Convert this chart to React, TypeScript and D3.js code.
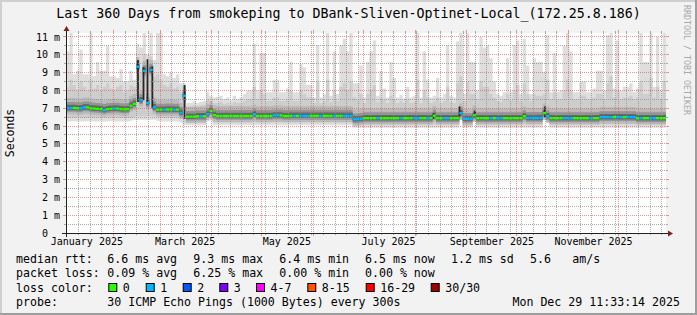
import React from "react";
import * as d3 from "d3";

// ---------------- data ----------------
const endTime = new Date(2025, 11, 29, 11, 33, 14);
const rangeDays = 360;
const stepDays = 2; // one value per 2-day bucket, 180 buckets
const yMax = 11.22; // ms at top of plot

// median RTT (ms) per bucket
const medianRtt = [
  7.02, 7.02, 7.02, 7.0, 7.0, 7.05, 7.05, 7.0, 6.98, 6.97,
  6.95, 6.9, 6.95, 6.97, 6.98, 6.98, 6.95, 6.93, 6.95, 7.15,
  7.25, 9.33, 7.45, 9.1, 7.3, 9.15, 7.05, 6.92, 6.92, 6.92,
  6.93, 6.93, 6.92, 6.92, 6.75, 7.7, 6.53, 6.53, 6.53, 6.55,
  6.55, 6.55, 6.68, 6.85, 6.62, 6.57, 6.57, 6.57, 6.57, 6.57,
  6.57, 6.57, 6.57, 6.57, 6.57, 6.57, 6.66, 6.57, 6.57, 6.57,
  6.57, 6.57, 6.6, 6.6, 6.6, 6.57, 6.57, 6.58, 6.58, 6.58,
  6.58, 6.58, 6.58, 6.58, 6.58, 6.58, 6.58, 6.58, 6.58, 6.58,
  6.58, 6.58, 6.58, 6.58, 6.58, 6.58, 6.38, 6.38, 6.4, 6.44,
  6.44, 6.44, 6.44, 6.44, 6.44, 6.44, 6.44, 6.44, 6.44, 6.44,
  6.44, 6.44, 6.44, 6.44, 6.44, 6.44, 6.44, 6.44, 6.44, 6.44,
  6.58, 6.44, 6.44, 6.44, 6.44, 6.44, 6.44, 6.44, 6.72, 6.4,
  6.4, 6.4, 6.6, 6.44, 6.44, 6.44, 6.44, 6.44, 6.44, 6.44,
  6.44, 6.44, 6.44, 6.44, 6.44, 6.44, 6.44, 6.55, 6.46, 6.46,
  6.46, 6.46, 6.46, 6.72, 6.55, 6.44, 6.44, 6.44, 6.44, 6.44,
  6.44, 6.44, 6.44, 6.44, 6.44, 6.44, 6.44, 6.44, 6.44, 6.44,
  6.5, 6.5, 6.5, 6.5, 6.5, 6.5, 6.5, 6.5, 6.5, 6.5,
  6.5, 6.44, 6.44, 6.44, 6.44, 6.44, 6.44, 6.44, 6.44, 6.44,
];

// lost pings per bucket (selects the loss colour of the median)
const lossCount = [
  1, 1, 0, 0, 1, 1, 0, 0, 0, 0,
  0, 1, 0, 0, 1, 0, 0, 0, 0, 0,
  0, 1, 1, 1, 1, 1, 1, 0, 0, 1,
  0, 0, 1, 0, 1, 1, 0, 0, 0, 0,
  1, 0, 1, 0, 0, 0, 0, 0, 0, 0,
  0, 0, 0, 0, 0, 0, 1, 0, 0, 0,
  0, 0, 1, 1, 0, 0, 0, 0, 1, 0,
  1, 1, 1, 0, 0, 0, 1, 0, 0, 0,
  1, 0, 0, 1, 1, 1, 1, 1, 1, 0,
  0, 0, 0, 1, 0, 0, 0, 0, 0, 0,
  1, 0, 0, 0, 1, 1, 0, 0, 1, 0,
  0, 0, 0, 1, 1, 0, 0, 0, 1, 1,
  1, 1, 0, 0, 0, 0, 0, 1, 0, 1,
  1, 0, 0, 0, 0, 0, 0, 0, 1, 1,
  1, 1, 1, 0, 1, 0, 0, 0, 0, 1,
  1, 1, 0, 0, 0, 0, 0, 1, 0, 0,
  1, 1, 1, 1, 0, 1, 1, 0, 1, 1,
  1, 0, 1, 0, 0, 1, 1, 0, 0, 0,
];

// slowest ping (top of the outer smoke) per bucket
const maxRtt = [
  10.2, 11.22, 8.9, 9.1, 10.3, 8.9, 8.9, 11.22, 8.8, 9.6,
  9.1, 9.1, 10.5, 8.8, 8.8, 8.7, 9.2, 8.5, 8.5, 9.1,
  8.6, 10.6, 10.4, 11.22, 10.0, 11.22, 9.7, 11.22, 11.22, 8.9,
  8.8, 9.0, 8.7, 8.9, 8.4, 8.4, 7.3, 7.3, 7.4, 7.3,
  7.35, 7.4, 7.9, 7.7, 7.6, 7.65, 7.7, 7.5, 7.6, 7.45,
  7.7, 7.5, 7.6, 7.8, 8.0, 8.0, 10.6, 8.0, 10.1, 10.1,
  7.9, 7.9, 8.6, 8.6, 7.9, 7.9, 8.1, 9.6, 7.9, 7.9,
  9.5, 9.3, 8.3, 8.3, 7.6, 10.55, 7.6, 7.8, 11.22, 7.7,
  10.2, 7.8, 10.55, 10.9, 10.2, 11.22, 8.4, 8.4, 9.4, 7.6,
  9.6, 10.2, 10.8, 7.7, 9.1, 8.1, 7.6, 9.6, 8.7, 7.6,
  7.75, 7.55, 8.2, 7.6, 7.7, 11.22, 7.6, 10.2, 8.6, 7.6,
  7.7, 8.7, 7.6, 7.8, 10.55, 7.7, 7.6, 10.75, 11.22, 7.8,
  11.2, 9.6, 9.6, 8.0, 11.0, 10.4, 10.55, 9.8, 8.5, 7.8,
  7.7, 7.9, 9.8, 7.9, 10.55, 10.8, 7.8, 10.9, 9.4, 7.8,
  9.8, 9.6, 9.6, 9.05, 11.1, 7.9, 10.1, 7.9, 8.0, 10.5,
  11.22, 10.2, 7.9, 7.9, 8.5, 8.5, 7.9, 7.9, 8.1, 9.1,
  9.1, 8.0, 11.1, 11.22, 8.1, 10.8, 8.0, 8.2, 8.2, 8.4,
  7.9, 8.1, 11.22, 9.6, 9.6, 11.22, 8.2, 11.0, 8.0, 11.22,
];

// top of the second smoke layer per bucket
const upperRtt = [
  8.2, 8.6, 8.3, 8.0, 8.5, 8.2, 8.0, 8.6, 8.1, 8.3,
  8.0, 8.2, 8.4, 8.1, 8.0, 8.2, 8.3, 7.9, 8.0, 8.3,
  8.2, 9.8, 9.0, 10.0, 9.4, 9.9, 8.8, 8.9, 8.6, 8.3,
  8.2, 8.4, 8.1, 8.2, 7.9, 8.0, 7.1, 7.1, 7.15, 7.1,
  7.15, 7.2, 7.5, 7.4, 7.3, 7.3, 7.35, 7.25, 7.3, 7.2,
  7.35, 7.3, 7.3, 7.4, 7.5, 7.5, 8.2, 7.5, 8.0, 7.8,
  7.4, 7.4, 7.6, 7.6, 7.4, 7.4, 7.5, 8.0, 7.4, 7.4,
  8.0, 7.8, 7.6, 7.6, 7.3, 8.5, 7.3, 7.4, 8.6, 7.35,
  8.0, 7.4, 8.2, 8.4, 8.0, 8.5, 7.6, 7.5, 7.8, 7.3,
  7.8, 8.0, 8.3, 7.35, 7.6, 7.5, 7.3, 7.7, 7.5, 7.3,
  7.4, 7.3, 7.5, 7.3, 7.35, 8.6, 7.3, 8.0, 7.6, 7.3,
  7.4, 7.6, 7.3, 7.4, 8.2, 7.35, 7.3, 8.4, 8.8, 7.4,
  8.5, 7.8, 7.8, 7.5, 8.5, 8.2, 8.2, 7.8, 7.6, 7.4,
  7.35, 7.5, 7.8, 7.45, 8.0, 8.3, 7.4, 8.4, 7.8, 7.4,
  7.8, 7.7, 7.7, 7.8, 8.6, 7.5, 7.9, 7.5, 7.5, 8.0,
  8.6, 8.0, 7.5, 7.5, 7.7, 7.7, 7.5, 7.5, 7.6, 7.8,
  7.8, 7.5, 8.4, 8.8, 7.6, 8.0, 7.5, 7.6, 7.6, 7.7,
  7.5, 7.6, 8.5, 7.8, 7.8, 8.7, 7.6, 8.2, 7.5, 8.5,
];

// bottom of the second smoke layer per bucket
const lowerRtt = [
  6.45, 6.45, 6.45, 6.45, 6.45, 6.45, 6.45, 6.45, 6.45, 6.45,
  6.45, 6.45, 6.45, 6.45, 6.45, 6.45, 6.45, 6.45, 6.45, 6.45,
  6.5, 6.55, 6.55, 6.55, 6.55, 6.55, 6.55, 6.5, 6.45, 6.45,
  6.45, 6.45, 6.45, 6.45, 6.4, 6.2, 6.2, 6.2, 6.2, 6.2,
  6.2, 6.2, 6.4, 6.4, 6.2, 6.2, 6.2, 6.2, 6.2, 6.2,
  6.2, 6.2, 6.2, 6.2, 6.2, 6.2, 6.2, 6.2, 6.2, 6.2,
  6.2, 6.2, 6.2, 6.2, 6.2, 6.2, 6.2, 6.2, 6.2, 6.2,
  6.2, 6.2, 6.2, 6.2, 6.2, 6.2, 6.2, 6.2, 6.2, 6.2,
  6.2, 6.2, 6.2, 6.2, 6.2, 6.2, 6.08, 6.08, 6.08, 6.08,
  6.08, 6.08, 6.08, 6.08, 6.08, 6.08, 6.08, 6.08, 6.08, 6.08,
  6.08, 6.08, 6.08, 6.08, 6.08, 6.08, 6.08, 6.08, 6.08, 6.08,
  6.08, 6.08, 6.08, 6.08, 6.08, 6.08, 6.08, 6.08, 6.45, 6.08,
  6.08, 6.08, 6.35, 6.08, 6.08, 6.08, 6.08, 6.08, 6.08, 6.08,
  6.08, 6.08, 6.08, 6.08, 6.08, 6.08, 6.08, 6.08, 6.08, 6.08,
  6.08, 6.08, 6.08, 6.45, 6.35, 6.08, 6.08, 6.08, 6.08, 6.08,
  6.08, 6.08, 6.08, 6.08, 6.08, 6.08, 6.08, 6.08, 6.08, 6.08,
  6.08, 6.08, 6.08, 6.08, 6.08, 6.08, 6.08, 6.08, 6.08, 6.08,
  6.08, 6.08, 6.08, 6.08, 6.08, 6.08, 6.08, 6.08, 6.08, 6.08,
];

// fastest ping (bottom of the outer smoke) per bucket
const minRtt = [
  6.25, 6.25, 6.27, 6.25, 6.25, 6.25, 6.27, 6.25, 6.25, 6.25,
  6.25, 6.25, 6.25, 6.27, 6.25, 6.25, 6.25, 6.25, 6.25, 6.3,
  6.35, 6.35, 6.35, 6.35, 6.35, 6.35, 6.35, 6.3, 6.25, 6.25,
  6.25, 6.25, 6.25, 6.25, 6.2, 6.05, 6.05, 6.05, 6.05, 6.05,
  6.05, 6.05, 6.3, 6.3, 6.05, 6.05, 6.05, 6.05, 6.05, 6.05,
  6.05, 6.05, 6.05, 6.05, 6.05, 6.05, 6.05, 6.05, 6.05, 6.05,
  6.05, 6.05, 6.05, 6.05, 6.05, 6.05, 6.05, 6.05, 6.05, 6.05,
  6.05, 6.05, 6.05, 6.05, 6.05, 6.05, 6.05, 6.05, 6.05, 6.05,
  6.05, 6.05, 6.05, 6.05, 6.05, 6.05, 5.9, 5.9, 5.9, 5.9,
  5.9, 5.9, 5.9, 5.9, 5.9, 5.9, 5.9, 5.9, 5.9, 5.9,
  5.9, 5.9, 5.9, 5.9, 5.9, 5.9, 5.9, 5.9, 5.9, 5.9,
  5.9, 5.9, 5.9, 5.9, 5.9, 5.9, 5.9, 5.9, 6.35, 5.9,
  5.9, 5.9, 6.25, 5.9, 5.9, 5.9, 5.9, 5.9, 5.9, 5.9,
  5.9, 5.9, 5.9, 5.9, 5.9, 5.9, 5.9, 5.9, 5.9, 5.9,
  5.9, 5.9, 5.9, 6.35, 6.25, 5.9, 5.9, 5.9, 5.9, 5.9,
  5.9, 5.9, 5.9, 5.9, 5.9, 5.9, 5.9, 5.9, 5.9, 5.9,
  5.9, 5.9, 5.9, 5.9, 5.9, 5.9, 5.9, 5.9, 5.9, 5.9,
  5.9, 5.9, 5.9, 5.9, 5.9, 5.9, 5.9, 5.9, 5.9, 5.9,
];

// typical spread (ms) of the inner ping quantiles around the median
const coreUp = [0.55, 0.33, 0.18, 0.08];
const coreDown = [0.36, 0.22, 0.13, 0.06];

// narrow dark columns (day offset from start, low / high ms)
const spikeDay = [43.2, 46.5, 48.9, 51.8, 71.1, 220.5, 236.1, 245.4, 287.4];
const spikeLo = [7.35, 7.45, 7.3, 7.0, 6.4, 6.4, 6.55, 6.45, 6.5];
const spikeHi = [9.7, 9.3, 9.75, 9.35, 8.3, 6.7, 7.1, 6.85, 7.1];

// y axis ticks
const yMajorTicks = [1, 2, 3, 4, 5, 6, 7, 8, 9, 10, 11];
const yMinorTicks = [0.5, 1.5, 2.5, 3.5, 4.5, 5.5, 6.5, 7.5, 8.5, 9.5, 10.5];

// legend
const titleText = "Last 360 Days from smokeping to DBank-Sliven-Optinet-Local_(172.25.8.186)";
const rowLabels = ["median rtt:", "packet loss:", "loss color:", "probe:"];
const rttStats = ["6.6 ms avg", "9.3 ms max", "6.4 ms min", "6.5 ms now", "1.2 ms sd"];
const amsStats = ["5.6", "am/s"];
const lossStats = ["0.09 % avg", "6.25 % max", "0.00 % min", "0.00 % now"];
const lossLabels = ["0", "1", "2", "3", "4-7", "8-15", "16-29", "30/30"];
const lossColors = ["#26ff00", "#00b8ff", "#0059ff", "#7e00ff", "#ff00ff", "#ff5500", "#ff0000", "#a10000"];
const lossBounds = [0, 1, 2, 3, 7, 15, 29, 30];
const probeText = "30 ICMP Echo Pings (1000 Bytes) every 300s";
const dateText = "Mon Dec 29 11:33:14 2025";

// ---------------- layout ----------------
const W = 697;
const H = 315;
const PL = 66;
const PR = 666;
const PT = 33;
const PB = 233;
const MONO = "'DejaVu Sans Mono', monospace";
const statX = [107.3, 193.3, 279.3, 365, 451];
const amsX = [530, 572.3];
const boxX = [108.3, 145.7, 182.7, 219.3, 256, 307.3, 365.7, 430.7];
const rowY = [263.3, 277.4, 291.5, 305.5];
const smokeOuter = "#dedede";
const smokeSecond = "#cdcdcd";
const coreColors = ["#bababa", "#949494", "#6a6a6a", "#3e3e3e"];
const gridMinor = "rgba(143,143,143,0.75)";
const gridMajor = "rgba(222,79,79,0.6)";

const snap = (v: number) => Math.floor(v) + 0.5;

export default function App() {
  const startTime = d3.timeDay.offset(endTime, -rangeDays);
  const N = medianRtt.length;
  const x = d3.scaleTime().domain([startTime, endTime]).range([PL, PR]);
  const y = d3.scaleLinear().domain([0, yMax]).range([PB, PT]);
  const bt = (i: number) => new Date(+startTime + i * stepDays * 864e5);
  const dayT = (d: number) => new Date(+startTime + d * 864e5);
  const idx = d3.range(N + 1);
  const ci = (i: number) => Math.min(i, N - 1);

  const band = (lo: (i: number) => number, hi: (i: number) => number) =>
    d3
      .area<number>()
      .curve(d3.curveStepAfter)
      .x((i) => x(bt(i)))
      .y0((i) => y(lo(ci(i))))
      .y1((i) => y(hi(ci(i))))(idx) || "";

  const lossColorIndex = (c: number) => lossBounds.findIndex((b) => c <= b);

  const medianRects = d3.range(N).map((i) => ({
    x0: x(bt(i)),
    x1: x(bt(i + 1)),
    ym: y(medianRtt[i]),
    color: lossColors[lossColorIndex(lossCount[i])],
  }));

  const weekLines = d3.timeSaturday.range(dayT(1), endTime);
  const monthLines = d3.timeMonth.range(dayT(1), endTime);
  const monthLabels = d3.timeMonth.every(2)!.range(d3.timeYear.floor(startTime), endTime);
  const fmt = d3.timeFormat("%B %Y");

  const majorXs = monthLines.map((m) => snap(x(m)));

  return (
    <svg
      width={W}
      height={H}
      viewBox={`0 0 ${W} ${H}`}
      style={{ position: "absolute", left: 0, top: 0, display: "block" }}
      fontFamily={MONO}
    >
      {/* background and bevel */}
      <rect x={0} y={0} width={W} height={H} fill="#f2f2f2" />
      <path d={`M0,0H${W}V2H2V${H}H0Z`} fill="#cfcfcf" />
      <path d={`M${W},${H}H0V${H - 2}H${W - 2}V0H${W}Z`} fill="#9e9e9e" />

      {/* canvas */}
      <rect x={PL} y={PT} width={PR - PL} height={PB - PT} fill="#ffffff" />

      {/* smoke */}
      <path d={band((i) => minRtt[i], (i) => maxRtt[i])} fill={smokeOuter} />
      <path d={band((i) => lowerRtt[i], (i) => upperRtt[i])} fill={smokeSecond} />
      {coreUp.map((u, k) => (
        <path
          key={"core" + k}
          d={band((i) => medianRtt[i] - coreDown[k], (i) => medianRtt[i] + u)}
          fill={coreColors[k]}
        />
      ))}
      {spikeDay.map((d, k) => (
        <rect
          key={"sp" + k}
          x={x(dayT(d)) - 0.9}
          width={1.8}
          y={y(spikeHi[k])}
          height={y(spikeLo[k]) - y(spikeHi[k])}
          fill="#262626"
        />
      ))}

      {/* grid */}
      <g strokeWidth={1} fill="none">
        {yMinorTicks.map((v) => (
          <g key={"ym" + v} stroke={gridMinor}>
            <line x1={PL} x2={PR} y1={snap(y(v))} y2={snap(y(v))} strokeDasharray="1 1" />
            <line x1={PL - 2} x2={PL} y1={snap(y(v))} y2={snap(y(v))} />
            <line x1={PR} x2={PR + 2} y1={snap(y(v))} y2={snap(y(v))} />
          </g>
        ))}
        {yMajorTicks.map((v) => (
          <g key={"yM" + v} stroke={gridMajor}>
            <line x1={PL} x2={PR} y1={snap(y(v))} y2={snap(y(v))} strokeDasharray="1 1" />
            <line x1={PL - 3} x2={PL} y1={snap(y(v))} y2={snap(y(v))} />
            <line x1={PR} x2={PR + 3} y1={snap(y(v))} y2={snap(y(v))} />
          </g>
        ))}
        {weekLines
          .filter((w) => !majorXs.some((mx) => Math.abs(mx - snap(x(w))) < 1))
          .map((w, k) => (
            <g key={"xw" + k} stroke={gridMinor}>
              <line x1={snap(x(w))} x2={snap(x(w))} y1={PT} y2={PB} strokeDasharray="1 1" />
              <line x1={snap(x(w))} x2={snap(x(w))} y1={PT - 2} y2={PT} />
              <line x1={snap(x(w))} x2={snap(x(w))} y1={PB} y2={PB + 2} />
            </g>
          ))}
        {monthLines.map((m, k) => (
          <g key={"xm" + k} stroke={gridMajor}>
            <line x1={snap(x(m))} x2={snap(x(m))} y1={PT} y2={PB} strokeDasharray="1 1" />
            <line x1={snap(x(m))} x2={snap(x(m))} y1={PT - 3} y2={PT} />
            <line x1={snap(x(m))} x2={snap(x(m))} y1={PB} y2={PB + 3} />
          </g>
        ))}
      </g>

      {/* median coloured by loss */}
      {medianRects.map((r, i) => (
        <rect key={"md" + i} x={r.x0} width={r.x1 - r.x0} y={r.ym - 1.2} height={2.4} fill={r.color} />
      ))}

      {/* axes */}
      <line x1={PL - 4} x2={PR + 4} y1={PB + 0.5} y2={PB + 0.5} stroke="#202020" strokeWidth={1} />
      <line x1={PL + 0.5} x2={PL + 0.5} y1={PB + 4} y2={PT - 4} stroke="#202020" strokeWidth={1} />
      <path d={`M${PR + 2},${PB + 0.5 - 3}L${PR + 2},${PB + 0.5 + 3}L${PR + 7},${PB + 0.5}Z`} fill="#801f1f" />
      <path d={`M${PL + 0.5 - 3},${PT - 2}L${PL + 0.5 + 3},${PT - 2}L${PL + 0.5},${PT - 7}Z`} fill="#801f1f" />

      {/* y labels */}
      {yMajorTicks.map((v) => (
        <text key={"yl" + v} x={60} y={y(v) + 3.6} fontSize={10} textAnchor="end" fill="#000">
          {v + " m"}
        </text>
      ))}
      <text x={42} y={y(0) + 3.6} fontSize={10} fill="#000">
        0
      </text>
      <text transform={`translate(14,${(PT + PB) / 2}) rotate(-90)`} fontSize={11.5} textAnchor="middle" fill="#000">
        Seconds
      </text>

      {/* x labels */}
      {monthLabels.map((m, k) => (
        <text key={"xl" + k} x={x(new Date(+m + 15 * 864e5))} y={245} fontSize={10} textAnchor="middle" fill="#000">
          {fmt(m)}
        </text>
      ))}

      {/* title and watermark */}
      <text x={W / 2} y={18} fontSize={13.3} textAnchor="middle" fill="#000">
        {titleText}
      </text>
      <text transform="translate(683.5,5) rotate(90)" fontSize={8.3} fill="#a8a8a8">
        RRDTOOL / TOBI OETIKER
      </text>

      {/* legend */}
      <g fontSize={11.6} fill="#000">
        {rowLabels.map((l, k) => (
          <text key={"rl" + k} x={16} y={rowY[k]}>
            {l}
          </text>
        ))}
        {rttStats.map((s, k) => (
          <text key={"rs" + k} x={statX[k]} y={rowY[0]}>
            {s}
          </text>
        ))}
        {amsStats.map((s, k) => (
          <text key={"am" + k} x={amsX[k]} y={rowY[0]}>
            {s}
          </text>
        ))}
        {lossStats.map((s, k) => (
          <text key={"ls" + k} x={statX[k]} y={rowY[1]}>
            {s}
          </text>
        ))}
        {lossLabels.map((l, k) => (
          <g key={"lb" + k}>
            <rect x={boxX[k] + 0.5} y={283.5} width={8} height={8} fill={lossColors[k]} stroke="#000" strokeWidth={1} />
            <text x={boxX[k] + 14.5} y={rowY[2]}>
              {l}
            </text>
          </g>
        ))}
        <text x={statX[0]} y={rowY[3]}>
          {probeText}
        </text>
        <text x={680} y={rowY[3]} textAnchor="end">
          {dateText}
        </text>
      </g>
    </svg>
  );
}
